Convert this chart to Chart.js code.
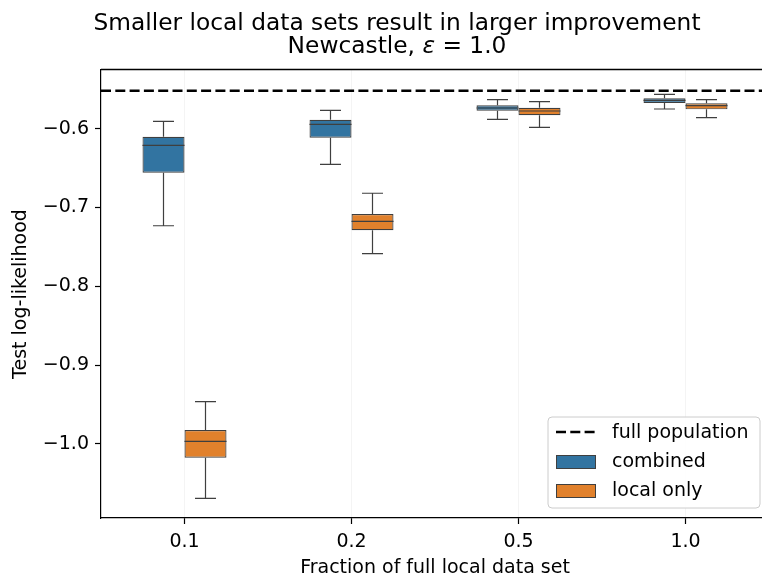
<!DOCTYPE html>
<html>
<head>
<meta charset="utf-8">
<script src="https://cdn.jsdelivr.net/npm/chart.js@4.4.1/dist/chart.umd.min.js"></script>
<style>
  html, body { margin: 0; padding: 0; background: #fff; overflow: hidden; }
  #wrap { width: 780px; height: 578px; }
</style>
</head>
<body>
<div id="wrap"><canvas id="myChart"></canvas></div>
<script>
// data
const fractions = ['0.1', '0.2', '0.5', '1.0'];
const yTicks = [-0.6, -0.7, -0.8, -0.9, -1.0];
const fullPopulation = -0.5518;

// combined: whisker low, q1, median, q3, whisker high
const combinedLow = [-0.7231, -0.6452, -0.5881, -0.5750];
const combinedQ1 = [-0.6558, -0.6114, -0.5772, -0.5674];
const combinedMed = [-0.6211, -0.5944, -0.5737, -0.5640];
const combinedQ3 = [-0.6101, -0.5886, -0.5703, -0.5614];
const combinedHigh = [-0.5906, -0.5767, -0.5632, -0.5564];

// local only
const localLow = [-1.0689, -0.7586, -0.5982, -0.5860];
const localQ1 = [-1.0174, -0.7289, -0.5830, -0.5754];
const localMed = [-0.9966, -0.7175, -0.5775, -0.5708];
const localQ3 = [-0.9822, -0.7082, -0.5734, -0.5678];
const localHigh = [-0.9463, -0.6819, -0.5657, -0.5632];

const blue = '#3274a1';
const orange = '#e1812c';
const edge = '#3f3f3f';
const FONT = "'DejaVu Sans', sans-serif";

Chart.defaults.font.family = FONT;
Chart.defaults.font.size = 19;
Chart.defaults.color = '#000';

const whiskers = [
  { low: combinedLow, med: combinedMed, high: combinedHigh, q1: combinedQ1, q3: combinedQ3 },
  { low: localLow, med: localMed, high: localHigh, q1: localQ1, q3: localQ3 }
];

const boxPlugin = {
  id: 'boxExtras',
  beforeDatasetsDraw(chart) {
    const { ctx, chartArea, scales: { y } } = chart;
    // dashed reference line
    ctx.save();
    ctx.strokeStyle = '#000';
    ctx.lineWidth = 2.6;
    ctx.setLineDash([10, 4.3]);
    const yy = y.getPixelForValue(fullPopulation);
    ctx.beginPath();
    ctx.moveTo(chartArea.left, yy);
    ctx.lineTo(chartArea.right, yy);
    ctx.stroke();
    ctx.restore();

    // whiskers and caps
    ctx.save();
    ctx.strokeStyle = edge;
    ctx.lineWidth = 1.2;
    whiskers.forEach((w, di) => {
      const meta = chart.getDatasetMeta(di);
      meta.data.forEach((bar, i) => {
        const x = bar.x;
        const half = bar.width / 4;
        const pts = [[w.low[i], w.q1[i]], [w.high[i], w.q3[i]]];
        pts.forEach(([end, start]) => {
          const ye = y.getPixelForValue(end);
          ctx.beginPath();
          ctx.moveTo(x, y.getPixelForValue(start));
          ctx.lineTo(x, ye);
          ctx.moveTo(x - half, ye);
          ctx.lineTo(x + half, ye);
          ctx.stroke();
        });
      });
    });
    ctx.restore();
  },
  afterDatasetsDraw(chart) {
    const { ctx, chartArea, scales: { y } } = chart;
    ctx.save();
    ctx.strokeStyle = edge;
    ctx.lineWidth = 1.2;
    whiskers.forEach((w, di) => {
      const meta = chart.getDatasetMeta(di);
      meta.data.forEach((bar, i) => {
        const ym = y.getPixelForValue(w.med[i]);
        ctx.beginPath();
        ctx.moveTo(bar.x - bar.width / 2, ym);
        ctx.lineTo(bar.x + bar.width / 2, ym);
        ctx.stroke();
      });
    });
    ctx.restore();

    // top spine
    ctx.save();
    ctx.strokeStyle = '#000';
    ctx.lineWidth = 1.3;
    const ty = Math.round(chartArea.top) - 0.5;
    ctx.beginPath();
    ctx.moveTo(chartArea.left, ty);
    ctx.lineTo(chartArea.right, ty);
    ctx.stroke();
    ctx.restore();
  },
  afterDraw(chart) {
    const { ctx } = chart;
    // title (centred on the figure)
    ctx.save();
    ctx.fillStyle = '#000';
    ctx.textBaseline = 'alphabetic';
    ctx.textAlign = 'center';
    ctx.font = '23.3px ' + FONT;
    const cx = 397;
    ctx.fillText('Smaller local data sets result in larger improvement', cx, 29.5);
    const parts = [['Newcastle, ', '23.3px ' + FONT], ['\u03B5', 'italic 23.3px ' + FONT], [' = 1.0', '23.3px ' + FONT]];
    let total = 0;
    parts.forEach(p => { ctx.font = p[1]; total += ctx.measureText(p[0]).width; });
    let x = cx - total / 2;
    ctx.textAlign = 'left';
    parts.forEach(p => { ctx.font = p[1]; ctx.fillText(p[0], x, 53); x += ctx.measureText(p[0]).width; });
    ctx.restore();

    // legend
    ctx.save();
    const lx = 548, ly = 417, lw = 212, lh = 91, r = 4;
    ctx.fillStyle = 'rgba(255,255,255,0.85)';
    ctx.strokeStyle = '#cccccc';
    ctx.lineWidth = 1;
    ctx.beginPath();
    ctx.roundRect(lx, ly, lw, lh, r);
    ctx.fill();
    ctx.stroke();

    ctx.strokeStyle = '#000';
    ctx.lineWidth = 2.6;
    ctx.setLineDash([10, 4.3]);
    ctx.beginPath();
    ctx.moveTo(556, 432);
    ctx.lineTo(596, 432);
    ctx.stroke();
    ctx.setLineDash([]);

    ctx.lineWidth = 1;
    ctx.strokeStyle = edge;
    ctx.fillStyle = blue;
    ctx.fillRect(556, 455, 40, 13);
    ctx.strokeRect(556.5, 455.5, 39, 13);
    ctx.fillStyle = orange;
    ctx.fillRect(556, 484, 40, 13);
    ctx.strokeRect(556.5, 484.5, 39, 13);

    ctx.fillStyle = '#000';
    ctx.font = '19px ' + FONT;
    ctx.textAlign = 'left';
    ctx.textBaseline = 'middle';
    ctx.fillText('full population', 612, 433);
    ctx.fillText('combined', 612, 462);
    ctx.fillText('local only', 612, 491);
    ctx.restore();
  }
};

const canvas = document.getElementById('myChart');
new Chart(canvas.getContext('2d'), {
  type: 'bar',
  data: {
    labels: fractions,
    datasets: [
      {
        label: 'combined',
        data: fractions.map((_, i) => [combinedQ1[i], combinedQ3[i]]),
        backgroundColor: blue,
        borderColor: edge,
        borderWidth: 1.2,
        borderSkipped: false
      },
      {
        label: 'local only',
        data: fractions.map((_, i) => [localQ1[i], localQ3[i]]),
        backgroundColor: orange,
        borderColor: edge,
        borderWidth: 1.2,
        borderSkipped: false
      }
    ]
  },
  options: {
    responsive: true,
    maintainAspectRatio: false,
    animation: false,
    categoryPercentage: 0.503,
    barPercentage: 1.0,
    layout: { padding: { top: 70, right: 11, left: 0, bottom: 0 } },
    plugins: {
      legend: { display: false },
      title: { display: false },
      tooltip: { enabled: false }
    },
    scales: {
      x: {
        grid: {
          offset: false,
          color: 'rgba(0,0,0,0.06)',
          lineWidth: 0.8,
          tickColor: '#000',
          tickWidth: 1.2,
          tickLength: 6
        },
        border: { display: true, color: '#000', width: 1.2 },
        ticks: { padding: 7, font: { size: 19 } },
        title: {
          display: true,
          text: 'Fraction of full local data set',
          font: { size: 19, lineHeight: 1.0 },
          padding: { top: 0, bottom: 0 }
        },
        afterFit(scale) { scale.height = 60; }
      },
      y: {
        min: -1.0939,
        max: -0.5255,
        afterBuildTicks(scale) { scale.ticks = yTicks.map(v => ({ value: v })); },
        grid: {
          drawOnChartArea: false,
          tickColor: '#000',
          tickWidth: 1.2,
          tickLength: 6
        },
        border: { display: true, color: '#000', width: 1.2 },
        ticks: {
          padding: 6,
          font: { size: 19 },
          callback: function(value) {
            return (value < 0 ? '\u2212' : '') + Math.abs(value).toFixed(1);
          }
        },
        title: {
          display: true,
          text: 'Test log-likelihood',
          font: { size: 19 },
          padding: { top: 10, bottom: 0 }
        },
        afterFit(scale) { scale.width = 101; }
      }
    }
  },
  plugins: [boxPlugin]
});
</script>
</body>
</html>
